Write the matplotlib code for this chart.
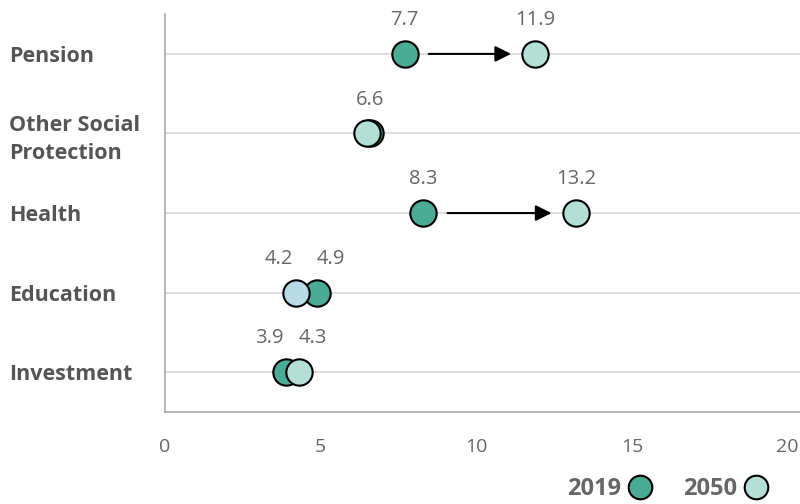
import matplotlib.pyplot as plt
from matplotlib.lines import Line2D
import numpy as np

plt.rcParams['font.family'] = ['Open Sans', 'DejaVu Sans']

categories = ['Pension', 'Other Social\nProtection', 'Health', 'Education', 'Investment']
values_2019 = [7.7, 6.6, 8.3, 4.9, 3.9]
values_2050 = [11.9, 6.5, 13.2, 4.2, 4.3]
labels_2019 = ['7.7', '6.6', '8.3', '4.9', '3.9']
labels_2050 = ['11.9', '', '13.2', '4.2', '4.3']
colors_2050 = ['#b3dfd5', '#b3dfd5', '#b3dfd5', '#b9dbe7', '#b3dfd5']
xticks = [0, 5, 10, 15, 20]

dark = '#4aab97'
light = '#b3dfd5'
grey = '#666666'

fig = plt.figure(figsize=(8, 5.04), dpi=100)
ax = fig.add_axes([0.206, 0.1825, 0.794, 0.7895])

y = np.arange(len(categories))
msize = 360


def nudge(v_self, v_other):
    # push close-together labels apart (in points)
    if abs(v_self - v_other) < 1.5:
        return 10 if v_self > v_other else -12
    return 0


for yi, v0, v1, l0, l1, c1 in zip(y, values_2019, values_2050,
                                 labels_2019, labels_2050, colors_2050):
    ax.axhline(yi, color='#dddddd', lw=1.5, zorder=0)
    # arrow only where the change is large enough to fit one
    if abs(v1 - v0) > 2:
        gap = 0.78
        ax.annotate('', xy=(v1 - gap, yi), xytext=(v0 + gap, yi),
                    arrowprops=dict(arrowstyle='-|>', color='black', lw=1.5,
                                    mutation_scale=24, shrinkA=0, shrinkB=0),
                    zorder=2)
    ax.scatter(v0, yi, s=msize, color=dark, edgecolor='black', lw=1.5, zorder=3)
    ax.scatter(v1, yi, s=msize, color=c1, edgecolor='black', lw=1.5, zorder=4)
    for v, vo, lab in [(v0, v1, l0), (v1, v0, l1)]:
        if not lab:
            continue
        dx = nudge(v, vo) if lab != '6.6' else 0
        ax.annotate(lab, (v, yi - 0.30), xytext=(dx, 0), textcoords='offset points',
                    ha='center', va='bottom', color=grey, fontsize=14.5)

ax.set_xlim(0, 20.4)
ax.set_ylim(len(categories) - 0.5, -0.5)
ax.set_xticks(xticks, [str(t) for t in xticks])
ax.set_yticks(y, categories)
ax.tick_params(axis='x', length=0, pad=19, labelsize=14, labelcolor=grey)
ax.tick_params(axis='y', length=0, pad=112, labelsize=15.5, labelcolor='#555555')
for lbl in ax.get_yticklabels():
    lbl.set_ha('left')
    lbl.set_fontweight('bold')
    lbl.set_linespacing(1.45)

for side in ['top', 'right']:
    ax.spines[side].set_visible(False)
for side in ['left', 'bottom']:
    ax.spines[side].set_color('#aaaaaa')
    ax.spines[side].set_linewidth(1.2)

handles = [
    Line2D([], [], ls='', marker='o', markersize=17, markerfacecolor=dark,
           markeredgecolor='black', markeredgewidth=1.5, label='2019'),
    Line2D([], [], ls='', marker='o', markersize=17, markerfacecolor=light,
           markeredgecolor='black', markeredgewidth=1.5, label='2050'),
]
fig.legend(handles=handles, loc='lower right', bbox_to_anchor=(0.995, -0.036), ncol=2,
           frameon=False, markerfirst=False, handletextpad=0.0, columnspacing=1.0,
           handlelength=1.6, labelcolor=grey, prop={'weight': 'bold', 'size': 17})

fig.savefig('out.png', dpi=100)
